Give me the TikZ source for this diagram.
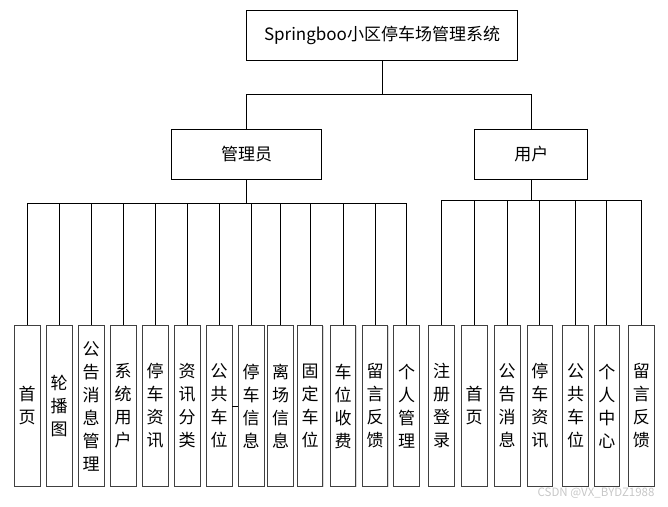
\documentclass[tikz,border=0pt]{standalone}
\usepackage{fontspec}
\setmainfont{Noto Sans CJK SC}
\usetikzlibrary{positioning,shadows}

\begin{document}
\begin{tikzpicture}[
    x=1pt, y=-1pt,
    node distance=5.7pt,
    head/.style={rectangle, draw, line width=0.8pt, minimum height=50pt, inner sep=0pt, font=\fontsize{17}{20}\selectfont},
    leaf/.style={rectangle, draw=black!75, line width=0.8pt, fill=white, minimum width=25.5pt, minimum height=161pt, inner sep=0pt, align=center, font=\fontsize{17}{23}\selectfont, drop shadow={shadow xshift=0.8pt, shadow yshift=-0.8pt, opacity=0.3}},
    link/.style={line width=0.8pt}
]
    \useasboundingbox (0,0) rectangle (668,506);
    \node[head, minimum width=271pt] (root) at (382,35.5) {Springboo小区停车场管理系统};
    \node[head, minimum width=150pt] (admin) at (246.7,154) {管理员};
    \node[head, minimum width=113pt] (user) at (531.3,154) {用户};
    \coordinate[below=33.8pt of root.south] (rbus);
    \coordinate[below=23.7pt of admin.south] (abus);
    \coordinate[below=21.3pt of user.south] (ubus);
    % admin functions
    \node[leaf] (a1) at (27.2,406) {首\\页};
    \node[leaf, right=of a1] (a2) {轮\\播\\图};
    \node[leaf, right=of a2] (a3) {公\\告\\消\\息\\管\\理};
    \node[leaf, right=of a3] (a4) {系\\统\\用\\户};
    \node[leaf, right=of a4] (a5) {停\\车\\资\\讯};
    \node[leaf, right=of a5] (a6) {资\\讯\\分\\类};
    \node[leaf, right=of a6] (a7) {公\\共\\车\\位};
    \node[leaf, right=of a7] (a8) {停\\车\\信\\息};
    \node[leaf, right=3pt of a8] (a9) {离\\场\\信\\息};
    \node[leaf, right=3.2pt of a9] (a10) {固\\定\\车\\位};
    \node[leaf, right=6.7pt of a10] (a11) {车\\位\\收\\费};
    \node[leaf, right=of a11] (a12) {留\\言\\反\\馈};
    \node[leaf, right=5.3pt of a12] (a13) {个\\人\\管\\理};
    % user functions
    \node[leaf] (u1) at (441.5,406) {注\\册\\登\\录};
    \node[leaf, right=6.4pt of u1] (u2) {首\\页};
    \node[leaf, right=6.7pt of u2] (u3) {公\\告\\消\\息};
    \node[leaf, right=6.3pt of u3] (u4) {停\\车\\资\\讯};
    \node[leaf, right=9.4pt of u4] (u5) {公\\共\\车\\位};
    \node[leaf, right=5pt of u5] (u6) {个\\人\\中\\心};
    \node[leaf, right=8.2pt of u6] (u7) {留\\言\\反\\馈};
    \node[font=\fontsize{11.5}{12}\selectfont, text=black!22, anchor=east] (mark) at (658,493) {CSDN @VX\_BYDZ1988};
    % connectors
    \draw[link] (root) -- (rbus);
    \draw[link] (rbus) -| (admin);
    \draw[link] (rbus) -| (user);
    \draw[link] (admin) -- (abus);
    \draw[link] (user) -- (ubus);
    \draw[link] (abus) -| (a1);
    \draw[link] (abus) -| (a2);
    \draw[link] (abus) -| (a3);
    \draw[link] (abus) -| (a4);
    \draw[link] (abus) -| (a5);
    \draw[link] (abus) -| (a6);
    \draw[link] (abus) -| (a7);
    \draw[link] (abus) -| (a8);
    \draw[link] (abus) -| (a9);
    \draw[link] (abus) -| (a10);
    \draw[link] (abus) -| (a11);
    \draw[link] (abus) -| (a12);
    \draw[link] (abus) -| (a13);
    \draw[link] (a7) -- (a8);
    \draw[link] (ubus) -| (u1);
    \draw[link] (ubus) -| (u2);
    \draw[link] (ubus) -| (u3);
    \draw[link] (ubus) -| (u4);
    \draw[link] (ubus) -| (u5);
    \draw[link] (ubus) -| (u6);
    \draw[link] (ubus) -| (u7);
\end{tikzpicture}
\end{document}
